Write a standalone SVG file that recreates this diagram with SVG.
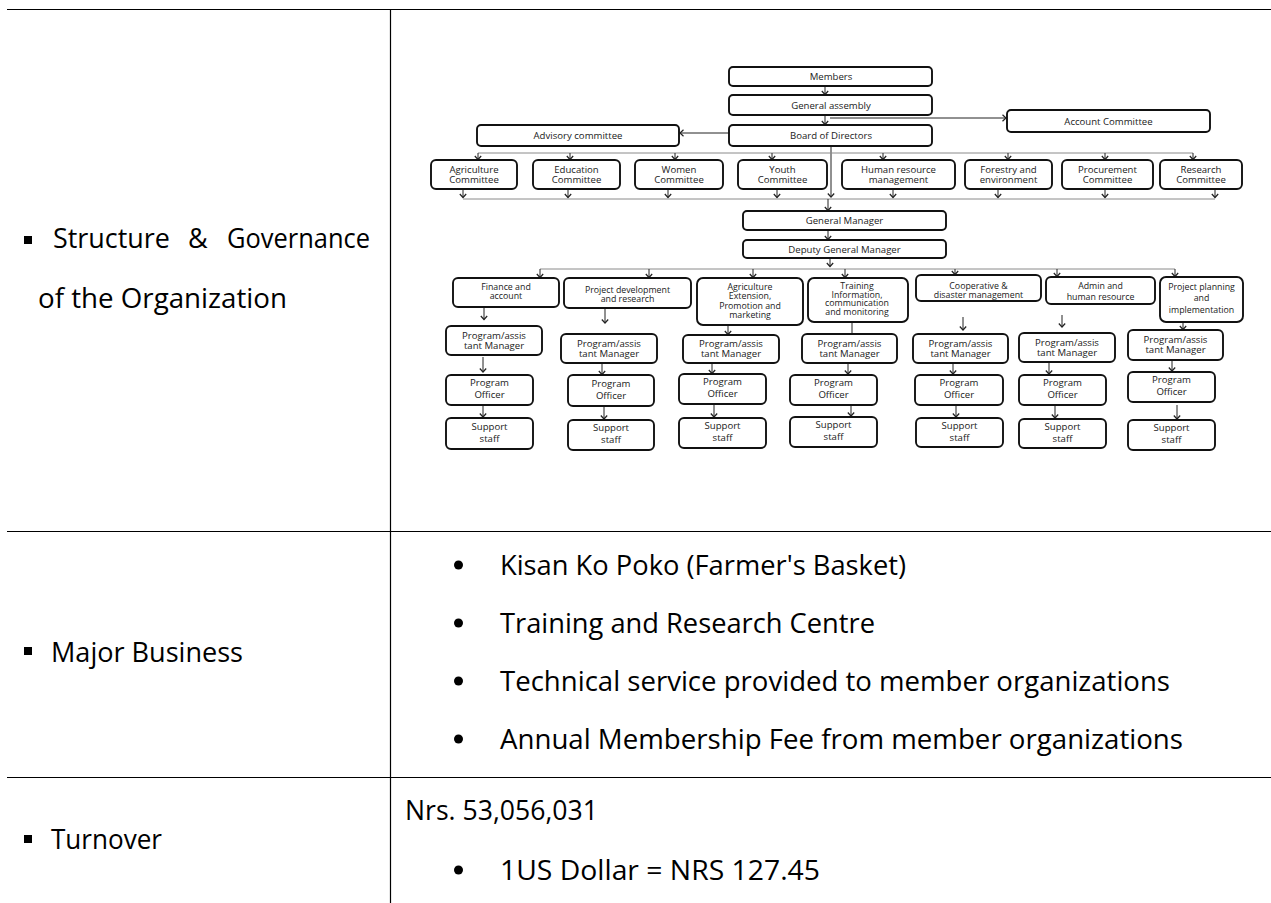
<svg xmlns="http://www.w3.org/2000/svg" width="1271" height="903" viewBox="0 0 1271 903">
<defs>
<marker id="ah" viewBox="-6 -6 12 12" markerWidth="12" markerHeight="12" refX="0" refY="0" orient="auto" markerUnits="userSpaceOnUse">
<path d="M-3.5,-3.2 L0,0 L-3.5,3.2" fill="none" stroke="#222" stroke-width="1.2"/>
</marker>
</defs>
<style>
.cell{font-family:"Open Sans","Noto Sans",sans-serif;font-size:27px;fill:#000}
.grid{stroke:#000;stroke-width:1.2;fill:none}
.box{fill:#fff;stroke:#111;stroke-width:1.9}
.t{font-family:"Open Sans","Noto Sans",sans-serif;font-size:9.6px;fill:#1a1a1a;text-anchor:middle}
.s{font-size:8.8px}
.bus{stroke:#8a8a8a;stroke-width:1;fill:none}
.ar{stroke:#222;stroke-width:1;fill:none;marker-end:url(#ah)}
.ln{stroke:#222;stroke-width:1;fill:none}
</style>
<rect width="1271" height="903" fill="#fff"/>

<g id="table">
<line class="grid" x1="7" y1="9.5" x2="1271" y2="9.5"/>
<line class="grid" x1="390.5" y1="9" x2="390.5" y2="903"/>
<line class="grid" x1="7" y1="531.5" x2="1271" y2="531.5"/>
<line class="grid" x1="7" y1="777.5" x2="1271" y2="777.5"/>
</g>

<g id="label-structure">
<rect x="24" y="236" width="8" height="8" fill="#000"/>
<text class="cell" x="53" y="248" textLength="117" lengthAdjust="spacingAndGlyphs">Structure</text>
<text class="cell" x="188" y="248">&amp;</text>
<text class="cell" x="227" y="248" textLength="143" lengthAdjust="spacingAndGlyphs">Governance</text>
<text class="cell" x="38" y="308" textLength="249" lengthAdjust="spacingAndGlyphs">of the Organization</text>
</g>
<g id="label-business">
<rect x="24" y="647" width="8" height="8" fill="#000"/>
<text class="cell" x="51" y="662" textLength="192" lengthAdjust="spacingAndGlyphs">Major Business</text>
</g>
<g id="label-turnover">
<rect x="24" y="835" width="8" height="8" fill="#000"/>
<text class="cell" x="51" y="849" textLength="111" lengthAdjust="spacingAndGlyphs">Turnover</text>
</g>

<g id="business-list">
<circle cx="458.5" cy="565" r="4.5" fill="#000"/>
<text class="cell" x="500" y="575" textLength="406" lengthAdjust="spacingAndGlyphs">Kisan Ko Poko (Farmer's Basket)</text>
<circle cx="458.5" cy="623" r="4.5" fill="#000"/>
<text class="cell" x="500" y="633" textLength="375" lengthAdjust="spacingAndGlyphs">Training and Research Centre</text>
<circle cx="458.5" cy="681" r="4.5" fill="#000"/>
<text class="cell" x="500" y="691" textLength="670" lengthAdjust="spacingAndGlyphs">Technical service provided to member organizations</text>
<circle cx="458.5" cy="739" r="4.5" fill="#000"/>
<text class="cell" x="500" y="749" textLength="683" lengthAdjust="spacingAndGlyphs">Annual Membership Fee from member organizations</text>
</g>
<g id="turnover-value">
<text class="cell" x="405" y="820" textLength="193" lengthAdjust="spacingAndGlyphs">Nrs. 53,056,031</text>
<circle cx="458.5" cy="870" r="4.5" fill="#000"/>
<text class="cell" x="500" y="880" textLength="320" lengthAdjust="spacingAndGlyphs">1US Dollar = NRS 127.45</text>
</g>

<g id="connectors">
<line class="ar" x1="825" y1="86" x2="825" y2="94.5"/>
<line class="ar" x1="825" y1="115" x2="825" y2="124.5"/>
<line class="ar" x1="830" y1="118" x2="1006" y2="118"/>
<line class="ar" x1="729" y1="133" x2="680" y2="133"/>
<line class="ar" x1="831" y1="146" x2="831" y2="197"/>
<line class="bus" x1="478" y1="153" x2="1193" y2="153"/>
<line class="ar" x1="478" y1="153" x2="478" y2="159.5"/>
<line class="ar" x1="570" y1="153" x2="570" y2="159.5"/>
<line class="ar" x1="675" y1="153" x2="675" y2="159.5"/>
<line class="ar" x1="772" y1="153" x2="772" y2="159.5"/>
<line class="ar" x1="883" y1="153" x2="883" y2="159.5"/>
<line class="ar" x1="1008" y1="153" x2="1008" y2="159.5"/>
<line class="ar" x1="1105" y1="153" x2="1105" y2="159.5"/>
<line class="ar" x1="1193" y1="153" x2="1193" y2="159.5"/>
<line class="ar" x1="463" y1="189" x2="463" y2="197.5"/>
<line class="ar" x1="568" y1="189" x2="568" y2="197.5"/>
<line class="ar" x1="668" y1="189" x2="668" y2="197.5"/>
<line class="ar" x1="777" y1="189" x2="777" y2="197.5"/>
<line class="ar" x1="893" y1="189" x2="893" y2="197.5"/>
<line class="ar" x1="998" y1="189" x2="998" y2="197.5"/>
<line class="ar" x1="1105" y1="189" x2="1105" y2="197.5"/>
<line class="ar" x1="1215" y1="189" x2="1215" y2="197.5"/>
<line class="bus" x1="463" y1="199" x2="1215" y2="199"/>
<line class="ar" x1="828" y1="199" x2="828" y2="210.5"/>
<line class="ar" x1="828" y1="230" x2="828" y2="239.5"/>
<line class="ar" x1="830" y1="258" x2="830" y2="266.5"/>
<line class="bus" x1="540" y1="269" x2="1175" y2="269"/>
<line class="ar" x1="540" y1="269" x2="540" y2="277.5"/>
<line class="ar" x1="649" y1="269" x2="649" y2="277.5"/>
<line class="ar" x1="753" y1="269" x2="753" y2="277.5"/>
<line class="ar" x1="845" y1="269" x2="845" y2="277.5"/>
<line class="ar" x1="955" y1="269" x2="955" y2="274.5"/>
<line class="ar" x1="1057" y1="269" x2="1057" y2="276.5"/>
<line class="ar" x1="1175" y1="269" x2="1175" y2="276.5"/>
<line class="ar" x1="484" y1="307" x2="484" y2="319.5"/>
<line class="ar" x1="483" y1="357" x2="483" y2="372"/>
<line class="ar" x1="483" y1="406" x2="483" y2="417"/>
<line class="ar" x1="605" y1="309" x2="605" y2="323"/>
<line class="ar" x1="602" y1="364" x2="602" y2="374.5"/>
<line class="ar" x1="604" y1="407" x2="604" y2="419"/>
<line class="ar" x1="728" y1="325" x2="728" y2="334.5"/>
<line class="ar" x1="712" y1="363" x2="712" y2="373.5"/>
<line class="ar" x1="714" y1="405" x2="714" y2="417"/>
<line class="ln" x1="852" y1="322" x2="852" y2="334"/>
<line class="ar" x1="848" y1="363" x2="848" y2="374"/>
<line class="ar" x1="851" y1="405" x2="851" y2="416"/>
<line class="ar" x1="963" y1="317" x2="963" y2="330"/>
<line class="ar" x1="953" y1="363" x2="953" y2="374"/>
<line class="ar" x1="956" y1="406" x2="956" y2="417"/>
<line class="ar" x1="1062" y1="315" x2="1062" y2="327"/>
<line class="ar" x1="1049" y1="362" x2="1049" y2="374"/>
<line class="ar" x1="1055" y1="405" x2="1055" y2="418"/>
<line class="ar" x1="1183" y1="322" x2="1183" y2="329.5"/>
<line class="ar" x1="1172" y1="360" x2="1172" y2="371"/>
<line class="ar" x1="1177" y1="405" x2="1177" y2="419"/>
</g>

<g id="members"><rect class="box" x="729" y="67" width="203" height="19" rx="4"/><text class="t" x="831" y="80">Members</text></g>
<g id="general-assembly"><rect class="box" x="729" y="95" width="203" height="20" rx="4"/><text class="t" x="831" y="108.5">General assembly</text></g>
<g id="board"><rect class="box" x="729" y="125" width="203" height="21" rx="4"/><text class="t" x="831" y="139">Board of Directors</text></g>
<g id="advisory"><rect class="box" x="477" y="125" width="202" height="21" rx="4"/><text class="t" x="578" y="139">Advisory committee</text></g>
<g id="account"><rect class="box" x="1007" y="110" width="203" height="22" rx="4"/><text class="t" x="1108.5" y="124.5">Account Committee</text></g>

<g id="c-agri"><rect class="box" x="431" y="160" width="86" height="29" rx="5"/><text class="t" x="474" y="172.5">Agriculture</text><text class="t" x="474" y="183">Committee</text></g>
<g id="c-edu"><rect class="box" x="533" y="160" width="87" height="29" rx="5"/><text class="t" x="576.5" y="172.5">Education</text><text class="t" x="576.5" y="183">Committee</text></g>
<g id="c-women"><rect class="box" x="635" y="160" width="88" height="29" rx="5"/><text class="t" x="679" y="172.5">Women</text><text class="t" x="679" y="183">Committee</text></g>
<g id="c-youth"><rect class="box" x="738" y="160" width="89" height="29" rx="5"/><text class="t" x="782.5" y="172.5">Youth</text><text class="t" x="782.5" y="183">Committee</text></g>
<g id="c-hr"><rect class="box" x="842" y="160" width="113" height="29" rx="5"/><text class="t" x="898.5" y="172.5">Human resource</text><text class="t" x="898.5" y="183">management</text></g>
<g id="c-forestry"><rect class="box" x="965" y="160" width="87" height="29" rx="5"/><text class="t" x="1008.5" y="172.5">Forestry and</text><text class="t" x="1008.5" y="183">environment</text></g>
<g id="c-procure"><rect class="box" x="1062" y="160" width="91" height="29" rx="5"/><text class="t" x="1107.5" y="172.5">Procurement</text><text class="t" x="1107.5" y="183">Committee</text></g>
<g id="c-research"><rect class="box" x="1160" y="160" width="82" height="29" rx="5"/><text class="t" x="1201" y="172.5">Research</text><text class="t" x="1201" y="183">Committee</text></g>

<g id="gm"><rect class="box" x="743" y="211" width="203" height="19" rx="4"/><text class="t" x="844.5" y="224">General Manager</text></g>
<g id="dgm"><rect class="box" x="743" y="240" width="203" height="18" rx="4"/><text class="t" x="844.5" y="252.5">Deputy General Manager</text></g>

<g id="d-finance"><rect class="box" x="453" y="278" width="106" height="29" rx="5"/><text class="t s" x="506" y="290">Finance and</text><text class="t s" x="506" y="299">account</text></g>
<g id="d-projdev"><rect class="box" x="564" y="278" width="127" height="30" rx="5"/><text class="t s" x="627.5" y="292.5">Project development</text><text class="t s" x="627.5" y="301.5">and research</text></g>
<g id="d-agriext"><rect class="box" x="697" y="278" width="106" height="47" rx="6"/><text class="t s" x="750" y="289.5">Agriculture</text><text class="t s" x="750" y="299">Extension,</text><text class="t s" x="750" y="308.5">Promotion and</text><text class="t s" x="750" y="318">marketing</text></g>
<g id="d-training"><rect class="box" x="808" y="278" width="100" height="44" rx="6"/><text class="t s" x="857" y="289">Training</text><text class="t s" x="857" y="297.5">Information,</text><text class="t s" x="857" y="306">communication</text><text class="t s" x="857" y="314.5">and monitoring</text></g>
<g id="d-coop"><rect class="box" x="916" y="275" width="125" height="26" rx="5"/><text class="t s" x="978.5" y="288.5">Cooperative &amp;</text><text class="t s" x="978.5" y="297.5">disaster management</text></g>
<g id="d-admin"><rect class="box" x="1046" y="277" width="109" height="27" rx="5"/><text class="t s" x="1100.5" y="289">Admin and</text><text class="t s" x="1100.5" y="299.5">human resource</text></g>
<g id="d-planning"><rect class="box" x="1160" y="277" width="83" height="45" rx="6"/><text class="t s" x="1201.5" y="290">Project planning</text><text class="t s" x="1201.5" y="301">and</text><text class="t s" x="1201.5" y="312.5">implementation</text></g>

<g id="pam-1"><rect class="box" x="446" y="326" width="96" height="29" rx="5"/><text class="t" x="494" y="338.5">Program/assis</text><text class="t" x="494" y="348.5">tant Manager</text></g>
<g id="pam-2"><rect class="box" x="561" y="334" width="96" height="29" rx="5"/><text class="t" x="609" y="346.5">Program/assis</text><text class="t" x="609" y="356.5">tant Manager</text></g>
<g id="pam-3"><rect class="box" x="683" y="335" width="96" height="28" rx="5"/><text class="t" x="731" y="347">Program/assis</text><text class="t" x="731" y="357">tant Manager</text></g>
<g id="pam-4"><rect class="box" x="802" y="334" width="95" height="29" rx="5"/><text class="t" x="849.5" y="346.5">Program/assis</text><text class="t" x="849.5" y="356.5">tant Manager</text></g>
<g id="pam-5"><rect class="box" x="913" y="334" width="95" height="29" rx="5"/><text class="t" x="960.5" y="346.5">Program/assis</text><text class="t" x="960.5" y="356.5">tant Manager</text></g>
<g id="pam-6"><rect class="box" x="1019" y="333" width="96" height="29" rx="5"/><text class="t" x="1067" y="345.5">Program/assis</text><text class="t" x="1067" y="355.5">tant Manager</text></g>
<g id="pam-7"><rect class="box" x="1128" y="330" width="95" height="30" rx="5"/><text class="t" x="1175.5" y="342.5">Program/assis</text><text class="t" x="1175.5" y="352.5">tant Manager</text></g>

<g id="po-1"><rect class="box" x="446" y="375" width="87" height="30" rx="5"/><text class="t" x="489.5" y="386">Program</text><text class="t" x="489.5" y="398">Officer</text></g>
<g id="po-2"><rect class="box" x="568" y="375" width="86" height="31" rx="5"/><text class="t" x="611" y="386.5">Program</text><text class="t" x="611" y="398.5">Officer</text></g>
<g id="po-3"><rect class="box" x="679" y="374" width="87" height="30" rx="5"/><text class="t" x="722.5" y="385">Program</text><text class="t" x="722.5" y="397">Officer</text></g>
<g id="po-4"><rect class="box" x="790" y="375" width="87" height="30" rx="5"/><text class="t" x="833.5" y="386">Program</text><text class="t" x="833.5" y="398">Officer</text></g>
<g id="po-5"><rect class="box" x="915" y="375" width="88" height="30" rx="5"/><text class="t" x="959" y="386">Program</text><text class="t" x="959" y="398">Officer</text></g>
<g id="po-6"><rect class="box" x="1019" y="375" width="87" height="30" rx="5"/><text class="t" x="1062.5" y="386">Program</text><text class="t" x="1062.5" y="398">Officer</text></g>
<g id="po-7"><rect class="box" x="1128" y="372" width="87" height="30" rx="5"/><text class="t" x="1171.5" y="383">Program</text><text class="t" x="1171.5" y="395">Officer</text></g>

<g id="ss-1"><rect class="box" x="446" y="418" width="87" height="31" rx="5"/><text class="t" x="489.5" y="429.5">Support</text><text class="t" x="489.5" y="441.5">staff</text></g>
<g id="ss-2"><rect class="box" x="568" y="420" width="86" height="30" rx="5"/><text class="t" x="611" y="431">Support</text><text class="t" x="611" y="443">staff</text></g>
<g id="ss-3"><rect class="box" x="679" y="418" width="87" height="30" rx="5"/><text class="t" x="722.5" y="429">Support</text><text class="t" x="722.5" y="441">staff</text></g>
<g id="ss-4"><rect class="box" x="790" y="417" width="87" height="30" rx="5"/><text class="t" x="833.5" y="428">Support</text><text class="t" x="833.5" y="440">staff</text></g>
<g id="ss-5"><rect class="box" x="916" y="418" width="87" height="29" rx="5"/><text class="t" x="959.5" y="429">Support</text><text class="t" x="959.5" y="441">staff</text></g>
<g id="ss-6"><rect class="box" x="1019" y="419" width="87" height="29" rx="5"/><text class="t" x="1062.5" y="430">Support</text><text class="t" x="1062.5" y="442">staff</text></g>
<g id="ss-7"><rect class="box" x="1128" y="420" width="87" height="30" rx="5"/><text class="t" x="1171.5" y="431">Support</text><text class="t" x="1171.5" y="443">staff</text></g>
</svg>
